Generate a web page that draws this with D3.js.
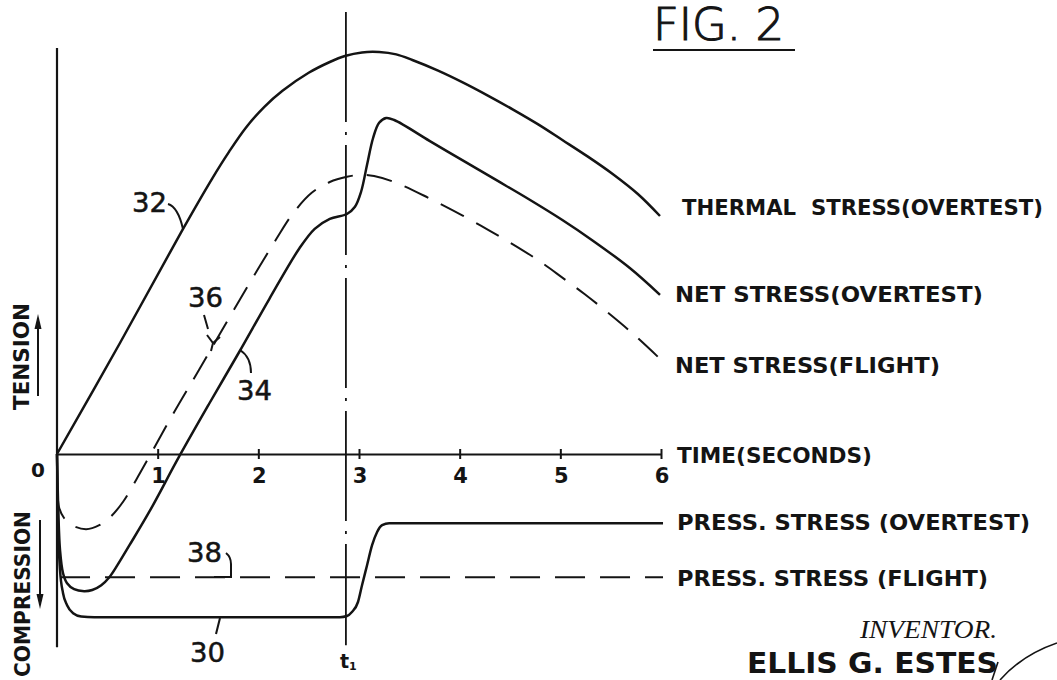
<!DOCTYPE html>
<html><head><meta charset="utf-8">
<script src="https://cdn.jsdelivr.net/npm/d3@7"></script>
<style>html,body{margin:0;padding:0;background:#fff;} svg{display:block;}</style>
</head><body>
<svg id="c" width="1057" height="680"></svg>
<script>
// ---------------- DATA ----------------
const timeTicks = [1, 2, 3, 4, 5, 6];
const tickLabels = ["1", "2", "3", "4", "5", "6"];
const t1 = 2.87;

// 32 - thermal stress (overtest)
const thermalT = [0, 0.62, 1.23, 1.54, 1.71, 1.88, 2.06, 2.24, 2.5, 2.71, 2.86, 3.03, 3.2, 3.37, 3.53, 3.78, 4.03, 4.28, 4.53, 4.78, 5.02, 5.27, 5.52, 5.77, 5.99];
const thermalV = [0, 2.75, 5.53, 6.88, 7.56, 8.17, 8.68, 9.08, 9.53, 9.8, 9.95, 10.04, 10.05, 9.99, 9.85, 9.59, 9.29, 8.96, 8.61, 8.24, 7.85, 7.44, 7.0, 6.5, 5.95];

// 34 - net stress (overtest)
const netOverT = [0, 0.01, 0.03, 0.06, 0.10, 0.17, 0.27, 0.35, 0.44, 0.52, 0.60, 0.72, 0.92, 1.21, 1.51, 1.81, 2.11, 2.41, 2.56, 2.71, 2.88, 2.96, 3.02, 3.08, 3.14, 3.20, 3.27, 3.35, 3.70, 4.03, 4.37, 4.70, 5.02, 5.32, 5.69, 5.99];
const netOverV = [0, -1.15, -2.4, -2.98, -3.23, -3.38, -3.43, -3.4, -3.28, -3.08, -2.78, -2.28, -1.43, -0.08, 1.25, 2.55, 3.88, 5.15, 5.63, 5.88, 6.0, 6.18, 6.55, 7.23, 7.9, 8.28, 8.4, 8.35, 7.83, 7.34, 6.84, 6.35, 5.85, 5.34, 4.65, 3.98];

// 36 - net stress (flight)
const netFlightT = [0, 0.005, 0.02, 0.07, 0.15, 0.29, 0.42, 0.54, 0.66, 0.79, 0.92, 1.16, 1.41, 1.74, 2.01, 2.18, 2.34, 2.53, 2.71, 2.88, 3.02, 3.15, 3.37, 3.70, 4.03, 4.30, 4.57, 4.80, 5.02, 5.24, 5.46, 5.72, 5.99];
const netFlightV = [0, -0.9, -1.33, -1.6, -1.78, -1.88, -1.78, -1.55, -1.18, -0.63, -0.05, 1.03, 2.1, 3.53, 4.68, 5.38, 6.0, 6.53, 6.8, 6.93, 6.98, 6.95, 6.78, 6.39, 5.96, 5.58, 5.18, 4.81, 4.41, 4.0, 3.56, 3.01, 2.38];

// 30 - pressure stress (overtest)
const pressOverT = [0, 0.01, 0.03, 0.06, 0.10, 0.16, 0.24, 0.37, 2.81, 2.88, 2.93, 2.99, 3.03, 3.08, 3.13, 3.18, 3.23, 3.30, 6.02];
const pressOverV = [0, -1.65, -2.9, -3.48, -3.78, -3.98, -4.06, -4.08, -4.08, -4.05, -3.95, -3.7, -3.28, -2.78, -2.28, -1.95, -1.78, -1.73, -1.73];

// 38 - pressure stress (flight)
const pressFlightT = [0.03, 6.02];
const pressFlightV = [-3.08, -3.08];

const seriesLabels = ["THERMAL  STRESS(OVERTEST)", "NET STRESS(OVERTEST)", "NET STRESS(FLIGHT)", "TIME(SECONDS)", "PRESS. STRESS (OVERTEST)", "PRESS. STRESS (FLIGHT)"];
const refNumbers = ["32", "36", "34", "38", "30"];

// ---------------- DRAW ----------------
const svg = d3.select("#c");
svg.append("rect").attr("width", 1057).attr("height", 680).attr("fill", "#fff");
const ink = "#141414";
const x = d3.scaleLinear().domain([0, 6]).range([57, 661]);
const y = d3.scaleLinear().domain([-5, 11]).range([654, 14]);

const zip = (a, b) => a.map((t, i) => [t, b[i]]);
const smooth = d3.line().x(d => x(d[0])).y(d => y(d[1])).curve(d3.curveCatmullRom.alpha(0.5));
const mono = d3.line().x(d => x(d[0])).y(d => y(d[1])).curve(d3.curveMonotoneX);

// axes
svg.append("line").attr("x1", x(0)).attr("x2", x(0)).attr("y1", y(10.15)).attr("y2", y(-4.83))
  .attr("stroke", ink).attr("stroke-width", 2.2);
const xAxis = d3.axisBottom(x).tickValues(timeTicks).tickSize(0).tickFormat("");
const gx = svg.append("g").attr("transform", `translate(0,${y(0)})`).call(xAxis);
gx.select(".domain").attr("stroke", ink).attr("stroke-width", 2);
gx.selectAll(".tick").append("line").attr("y1", -5).attr("y2", 5).attr("stroke", ink).attr("stroke-width", 2);

// tick labels
svg.selectAll("text.tk").data(timeTicks).enter().append("text").attr("class", "tk")
  .attr("x", d => x(d) + 1).attr("y", y(0) + 29)
  .attr("text-anchor", "middle").attr("font-family", "DejaVu Sans").attr("font-weight", "bold")
  .attr("font-size", 21).attr("fill", ink).text((d, i) => tickLabels[i]);
svg.append("text").attr("x", 38).attr("y", y(0) + 23).attr("text-anchor", "middle")
  .attr("font-family", "DejaVu Sans").attr("font-weight", "bold").attr("font-size", 20).attr("fill", ink).text("0");

// t1 dash-dot line
svg.append("line").attr("x1", x(t1)).attr("x2", x(t1)).attr("y1", y(11.05)).attr("y2", y(-4.78))
  .attr("stroke", ink).attr("stroke-width", 1.8).attr("stroke-dasharray", "110,10,3,10");

// curves
function curve(gen, T, V, dash, w) {
  svg.append("path").attr("d", gen(zip(T, V))).attr("fill", "none").attr("stroke", ink)
    .attr("stroke-width", w).attr("stroke-linejoin", "round").attr("stroke-dasharray", dash || null);
}
curve(smooth, thermalT, thermalV, null, 2.5);
curve(smooth, netOverT, netOverV, null, 2.5);
curve(smooth, netFlightT, netFlightV, "26,14", 2);
curve(mono, pressOverT, pressOverV, null, 2.5);
curve(mono, pressFlightT, pressFlightV, "30,15", 2);

// labels
function lab(txt, px, py, len, size, extra) {
  const t = svg.append("text").attr("x", px).attr("y", py).attr("font-family", "DejaVu Sans")
    .attr("font-weight", "bold").attr("font-size", size).attr("fill", ink)
    .attr("textLength", len).attr("lengthAdjust", "spacingAndGlyphs").style("white-space", "pre").text(txt);
  if (extra) extra(t);
  return t;
}
lab(seriesLabels[0], 682, 215, 361, 22);
lab(seriesLabels[1], 675, 302, 308, 22);
lab(seriesLabels[2], 675, 373, 265, 22);
lab(seriesLabels[3], 677, 463, 195, 22);
lab(seriesLabels[4], 677, 530, 353, 22);
lab(seriesLabels[5], 677, 586, 311, 22);

// vertical axis labels
lab("TENSION", 0, 0, 107, 21, t => t.attr("transform", "translate(29,410) rotate(-90)"));
lab("COMPRESSION", 0, 0, 166, 21, t => t.attr("transform", "translate(30,677) rotate(-90)"));
// arrows
svg.append("line").attr("x1", 38).attr("x2", 38).attr("y1", 396).attr("y2", 326).attr("stroke", ink).attr("stroke-width", 2);
svg.append("path").attr("d", "M38,314 L34.5,329 L41.5,329 Z").attr("fill", ink);
svg.append("line").attr("x1", 40).attr("x2", 40).attr("y1", 520).attr("y2", 597).attr("stroke", ink).attr("stroke-width", 2);
svg.append("path").attr("d", "M40,609 L36.5,594 L43.5,594 Z").attr("fill", ink);

// reference numbers
const refPos = [[132, 212], [188, 307], [237, 400], [187, 562], [190, 662]];
refNumbers.forEach((r, i) => {
  svg.append("text").attr("x", refPos[i][0]).attr("y", refPos[i][1]).attr("font-family", "DejaVu Sans")
    .attr("font-size", 27).attr("fill", ink).attr("stroke", ink).attr("stroke-width", 0.5)
    .attr("textLength", 35).attr("lengthAdjust", "spacingAndGlyphs").text(r);
});
const leaders = [
  "M168,204 Q178,207 183,229",
  "M204,315 L208,329 M207,335 L213,343 L220,337 M213,343 L211,351",
  "M240,350 Q251,357 251,373",
  "M226,553 Q231,557 231,564 L231,577 L214,577",
  "M220,618 L216,634"
];
leaders.forEach(d => svg.append("path").attr("d", d).attr("fill", "none").attr("stroke", ink).attr("stroke-width", 2));

// t1 label
const tl = svg.append("text").attr("x", x(t1) - 6).attr("y", 668).attr("font-family", "DejaVu Sans")
  .attr("font-weight", "bold").attr("font-size", 19).attr("fill", ink);
tl.append("tspan").text("t");
tl.append("tspan").attr("font-size", 11).attr("dy", 2).text("1");

// figure title
svg.append("text").attr("x", 653).attr("y", 40).attr("font-family", "'DejaVu Sans ExtraLight', 'DejaVu Sans'")
  .attr("font-weight", 200).attr("font-size", 44).attr("fill", ink).attr("stroke", ink).attr("stroke-width", 1.1)
  .attr("textLength", 131).attr("lengthAdjust", "spacingAndGlyphs").text("FIG. 2");
svg.append("line").attr("x1", 653).attr("x2", 795).attr("y1", 50).attr("y2", 50).attr("stroke", ink).attr("stroke-width", 2.2);

// inventor
svg.append("text").attr("x", 860).attr("y", 638).attr("font-family", "Liberation Serif").attr("font-style", "italic")
  .attr("font-size", 25).attr("fill", ink).attr("textLength", 137).attr("lengthAdjust", "spacingAndGlyphs").text("INVENTOR.");
svg.append("text").attr("x", 747).attr("y", 673).attr("font-family", "DejaVu Sans").attr("font-weight", "bold")
  .attr("font-size", 29).attr("fill", ink).attr("textLength", 251).attr("lengthAdjust", "spacingAndGlyphs").text("ELLIS G. ESTES");
// signature strokes
svg.append("path").attr("d", "M1000,680 Q1022,655 1057,643").attr("fill", "none").attr("stroke", ink).attr("stroke-width", 1.6);
svg.append("path").attr("d", "M998,662 L992,680").attr("fill", "none").attr("stroke", ink).attr("stroke-width", 1.6);
</script>
</body></html>
